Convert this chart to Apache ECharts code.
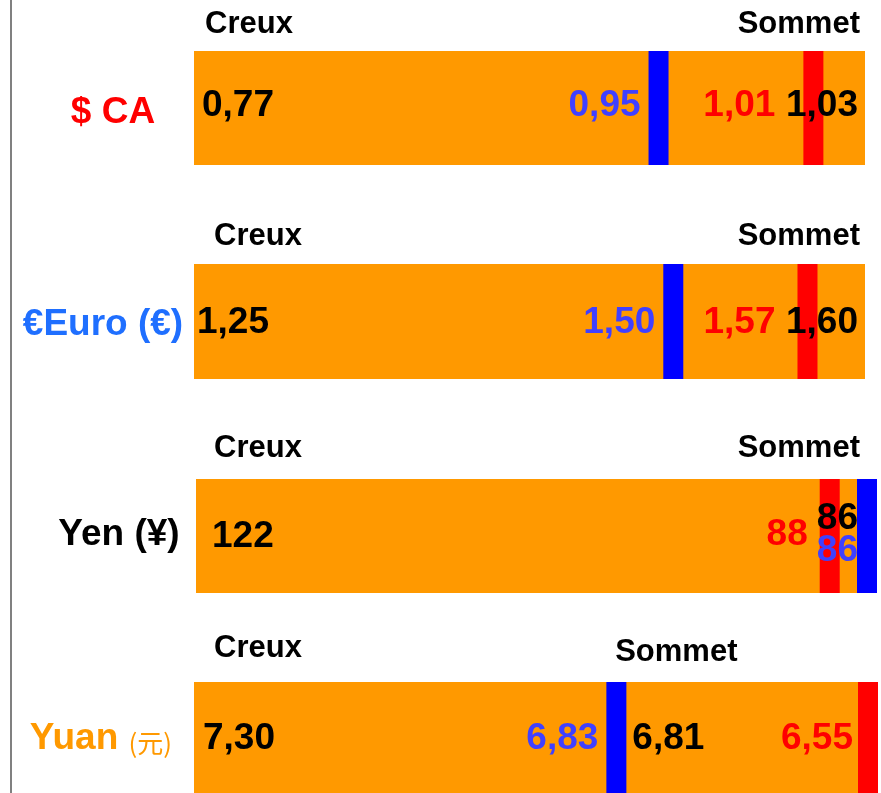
<!DOCTYPE html>
<html>
<head>
<meta charset="utf-8">
<script src="https://cdn.jsdelivr.net/npm/echarts@6.0.0/dist/echarts.min.js"></script>
<style>
html, body { margin: 0; padding: 0; background: #fff; }
#chart { width: 881px; height: 793px; }
</style>
</head>
<body>
<div id="chart"></div>
<script>
// valeurs
const devises = ['$ CA', '€Euro (€)', 'Yen (¥)', 'Yuan (元)'];
const creux = [0.77, 1.25, 122, 7.30];
const sommet = [1.03, 1.60, 86, 6.81];
const bleu = [0.95, 1.50, 86, 6.83];
const rouge = [1.01, 1.57, 88, 6.55];
const decimales = [2, 2, 0, 2];

// mise en page
const grilles = [
    {left: 194, right: 16, top: 51, height: 114},
    {left: 194, right: 16, top: 264, height: 115},
    {left: 196, right: 14, top: 479, height: 114},
    {left: 194, right: 13, top: 682, height: 111}
];
const couleurNom = ['#ff0000', '#1f6fff', '#000000', '#ff9900'];
const centreNom = [113, 103, 119, 101];
const decalNom = [[10, 0, 0, 0], [6, 0, 0, 0], [0, 0, 2, 0], [2, 0, 0, 0]];
// [dx, dy, align] pour creux, bleu, rouge, sommet
const place = [
    [[8, -2, 'left'], [-18, -2, 'right'], [-38, -2, 'right'], [-7, -2, 'right']],
    [[3, 1, 'left'], [-18, 1, 'right'], [-32, 1, 'right'], [-7, 1, 'right']],
    [[16, 1, 'left'], [-9, 15, 'right'], [-22, -1, 'right'], [-9, -17, 'right']],
    [[9, 1, 'left'], [-18, 1, 'right'], [-15, 1, 'right'], [-2, 1, 'left']]
];
// en-tetes : dy au-dessus de la barre, [dx, align, dy] pour Creux et Sommet
const entete = [
    {dy: -27, creux: [11, 'left', 0], sommet: [-5, 'right', 0]},
    {dy: -28, creux: [20, 'left', 0], sommet: [-5, 'right', 0]},
    {dy: -31, creux: [18, 'left', 0], sommet: [-7, 'right', 0]},
    {dy: -34, creux: [20, 'left', 0], sommet: [42, 'center', 4]}
];

const ORANGE = '#ff9900';
const FONT = '"Liberation Sans", Arial, sans-serif';
const couleurs = ['#000000', '#4040ff', '#ff0000', '#000000'];

function fmt(v, d) {
    return v.toFixed(d).replace('.', ',');
}

let myChart = echarts.init(document.getElementById('chart'));

let grid = [], xAxis = [], yAxis = [], series = [];

devises.forEach(function (nom, p) {
    const vals = [sommet[p], bleu[p], rouge[p]];
    const hausse = sommet[p] > creux[p];
    const extreme = hausse ? Math.max(...vals) : Math.min(...vals);

    grid.push(grilles[p]);
    xAxis.push({
        type: 'value',
        gridIndex: p,
        min: Math.min(creux[p], extreme),
        max: Math.max(creux[p], extreme),
        inverse: !hausse,
        show: false
    });
    yAxis.push({
        type: 'category',
        gridIndex: p,
        data: [nom],
        axisLine: {show: false},
        axisTick: {show: false},
        splitLine: {show: false},
        axisLabel: {
            align: 'center',
            margin: grilles[p].left - centreNom[p],
            padding: decalNom[p],
            fontSize: 37,
            fontWeight: 'bold',
            fontFamily: FONT,
            color: couleurNom[p],
            formatter: function (v) { return v.replace('(元)', '{cjk|(元)}'); },
            rich: {
                cjk: {fontSize: 26, fontWeight: 'normal', fontFamily: '"Noto Sans CJK SC"', color: couleurNom[p], padding: [10, 0, 0, 0]}
            }
        }
    });

    // barre orange creux -> extreme
    series.push({
        type: 'custom',
        xAxisIndex: p,
        yAxisIndex: p,
        encode: {x: [0, 1]},
        data: [[creux[p], extreme]],
        z: 1,
        renderItem: function (params, api) {
            const a = api.coord([api.value(0), 0]);
            const b = api.coord([api.value(1), 0]);
            const h = api.size([0, 1])[1];
            return {
                type: 'rect',
                shape: {x: Math.min(a[0], b[0]), y: a[1] - h / 2, width: Math.abs(b[0] - a[0]), height: h},
                style: {fill: ORANGE}
            };
        }
    });

    // reperes bleu et rouge
    series.push({
        type: 'custom',
        xAxisIndex: p,
        yAxisIndex: p,
        encode: {x: 0},
        data: [[bleu[p]], [rouge[p]]],
        z: 2,
        renderItem: function (params, api) {
            const c = api.coord([api.value(0), 0]);
            const h = api.size([0, 1])[1];
            return {
                type: 'rect',
                shape: {x: c[0] - 10, y: c[1] - h / 2, width: 20, height: h},
                style: {fill: params.dataIndex === 0 ? '#0000ff' : '#ff0000'}
            };
        }
    });

    // etiquettes
    series.push({
        type: 'custom',
        xAxisIndex: p,
        yAxisIndex: p,
        encode: {x: 0},
        data: [[creux[p]], [bleu[p]], [rouge[p]], [sommet[p]]],
        z: 3,
        renderItem: function (params, api) {
            const i = params.dataIndex;
            const v = api.value(0);
            const c = api.coord([v, 0]);
            const h = api.size([0, 1])[1];
            const pl = place[p][i];
            const children = [{
                type: 'text',
                x: c[0] + pl[0],
                y: c[1] + pl[1],
                style: {
                    text: fmt(v, decimales[p]),
                    fill: couleurs[i],
                    fontSize: 37,
                    fontWeight: 'bold',
                    fontFamily: FONT,
                    align: pl[2],
                    verticalAlign: 'middle'
                }
            }];
            if (i === 0 || i === 3) {
                const e = i === 0 ? entete[p].creux : entete[p].sommet;
                children.push({
                    type: 'text',
                    x: c[0] + e[0],
                    y: c[1] - h / 2 + entete[p].dy + e[2],
                    style: {
                        text: i === 0 ? 'Creux' : 'Sommet',
                        fill: '#000',
                        fontSize: 31,
                        fontWeight: 'bold',
                        fontFamily: FONT,
                        align: e[1],
                        verticalAlign: 'middle'
                    }
                });
            }
            return {type: 'group', children: children};
        }
    });
});

option = {
    animation: false,
    backgroundColor: '#fff',
    graphic: [{
        type: 'rect',
        left: 10,
        top: 0,
        shape: {width: 2, height: 793},
        style: {fill: '#808080'}
    }],
    grid: grid,
    xAxis: xAxis,
    yAxis: yAxis,
    series: series
};
myChart.setOption(option);
</script>
</body>
</html>
